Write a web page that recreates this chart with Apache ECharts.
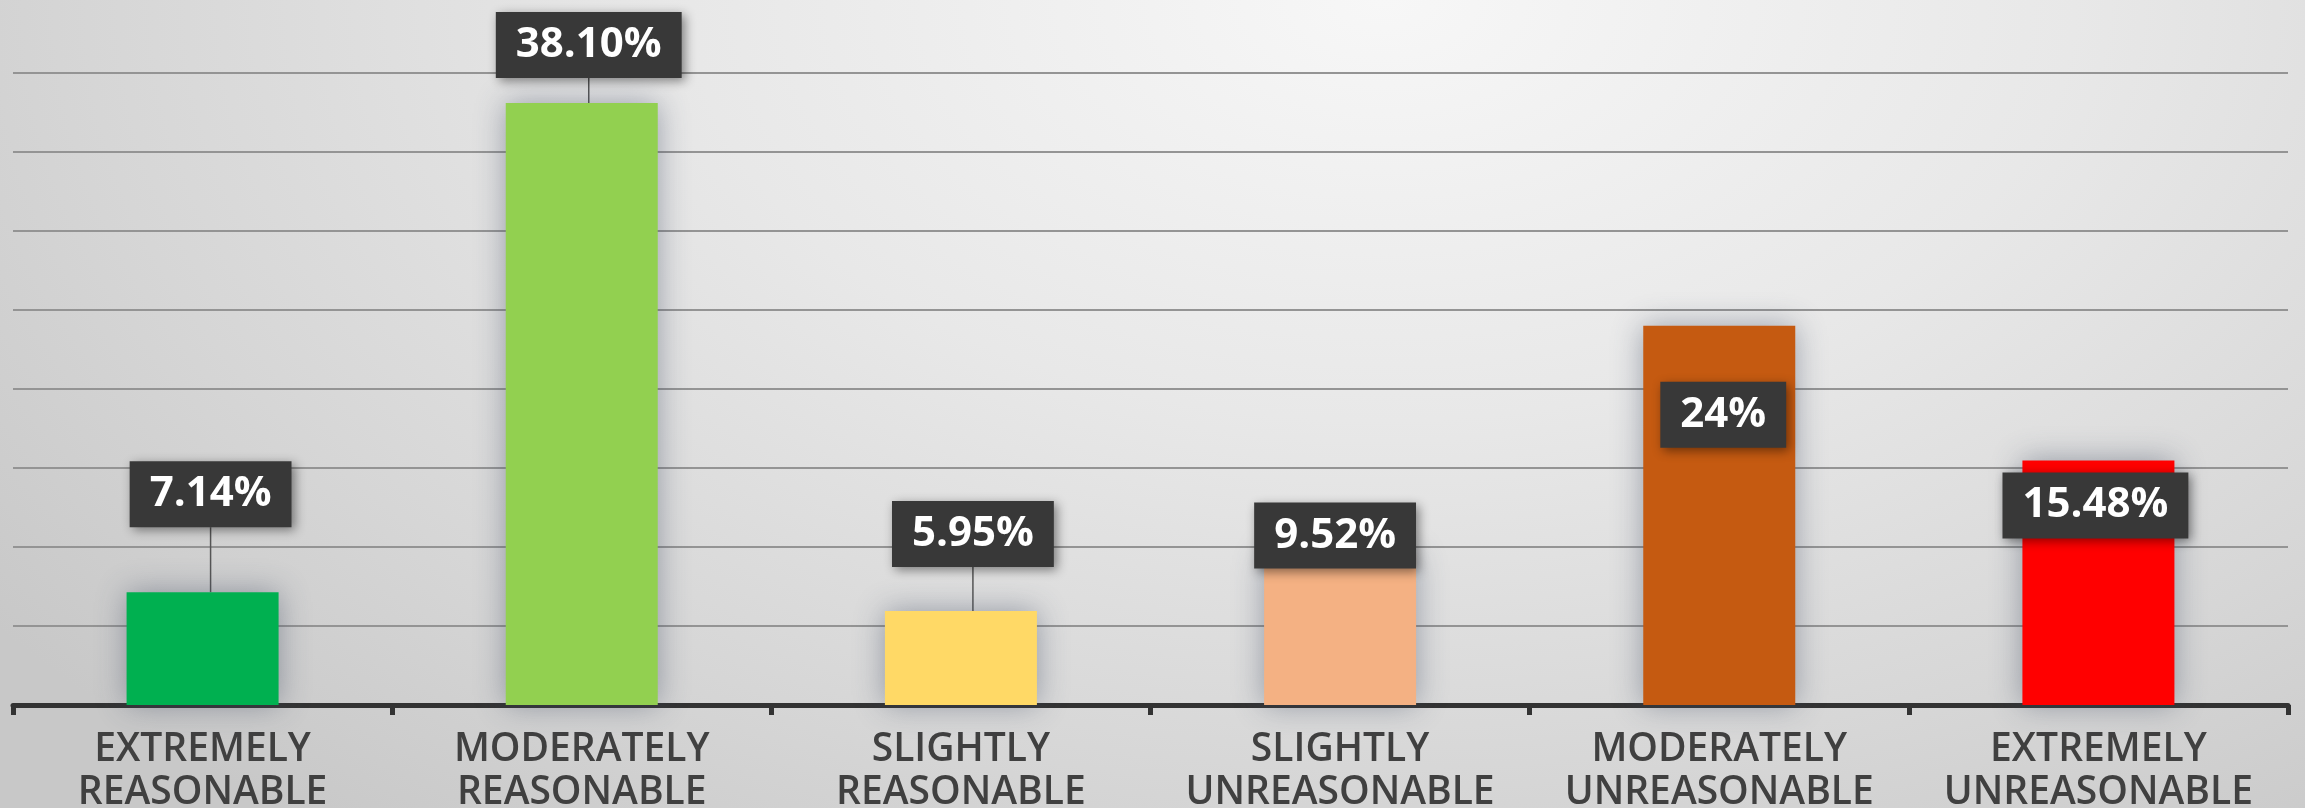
<!DOCTYPE html>
<html>
<head>
<meta charset="utf-8">
<script src="https://cdn.jsdelivr.net/npm/echarts@6/dist/echarts.min.js"></script>
<style>
  html, body { margin: 0; padding: 0; }
  body {
    width: 2305px; height: 808px; overflow: hidden;
    background: radial-gradient(ellipse 75% 130% at 60% 0%, #f7f7f7 0%, #e8e8e8 40%, #d6d6d6 75%, #c8c8c8 100%);
  }
  #chart { width: 2305px; height: 808px; }
</style>
</head>
<body>
<div id="chart"></div>
<script>
// Survey answers: how reasonable the respondents found it
const categories = [
  'EXTREMELY\nREASONABLE',
  'MODERATELY\nREASONABLE',
  'SLIGHTLY\nREASONABLE',
  'SLIGHTLY\nUNREASONABLE',
  'MODERATELY\nUNREASONABLE',
  'EXTREMELY\nUNREASONABLE'
];
const shares = [7.14, 38.10, 5.95, 9.52, 24, 15.48];
const yTicks = [0, 5, 10, 15, 20, 25, 30, 35, 40];

// one colour per answer, green (reasonable) through red (unreasonable)
const barColors = ['#00b050', '#92d050', '#ffd966', '#f4b183', '#c55a11', '#ff0000'];
// where each value box sits relative to the top of its bar
const labelShiftX = [8, 7, 12, -5, 4, -3];
const labelLift = [65, 25, 44, -14, -122, -78];
const withLeader = [true, true, true, false, false, false];

const fmt = v => (Number.isInteger(v) ? String(v) : v.toFixed(2)) + '%';

const chart = echarts.init(document.getElementById('chart'), null, { renderer: 'canvas' });

chart.setOption({
  backgroundColor: 'transparent',
  animation: false,
  grid: { left: 13, right: 17, top: 73, bottom: 103, containLabel: false, outerBoundsMode: 'none' },
  xAxis: {
    type: 'category',
    data: categories,
    boundaryGap: true,
    axisLine: { show: true, lineStyle: { color: '#333333', width: 5 } },
    axisTick: { show: true, alignWithLabel: false, length: 10, lineStyle: { color: '#333333', width: 5 } },
    axisLabel: {
      interval: 0,
      margin: 23,
      color: '#404040',
      fontFamily: 'Open Sans',
      fontWeight: 600,
      fontSize: 39,
      lineHeight: 43
    }
  },
  yAxis: {
    type: 'value',
    min: yTicks[0],
    max: yTicks[yTicks.length - 1],
    interval: yTicks[1] - yTicks[0],
    axisLine: { show: false },
    axisTick: { show: false },
    axisLabel: { show: false },
    splitLine: { show: true, lineStyle: { color: '#949494', width: 2 } }
  },
  series: [{
    type: 'bar',
    barWidth: 152,
    data: shares.map((v, i) => ({
      value: v,
      itemStyle: {
        color: barColors[i],
        shadowBlur: 28,
        shadowColor: 'rgba(60, 70, 95, 0.45)'
      },
      labelLine: { show: withLeader[i], lineStyle: { color: '#555555', width: 1.5 } }
    })),
    label: {
      show: true,
      position: 'top',
      distance: 0,
      formatter: p => fmt(p.value),
      color: '#ffffff',
      fontFamily: 'Open Sans',
      fontWeight: 700,
      fontSize: 42,
      lineHeight: 46,
      backgroundColor: '#383838',
      padding: [10, 20, 10, 20],
      shadowBlur: 10,
      shadowOffsetX: 3,
      shadowOffsetY: 3,
      shadowColor: 'rgba(0, 0, 0, 0.45)'
    },
    labelLayout: p => ({ dx: labelShiftX[p.dataIndex], dy: -labelLift[p.dataIndex] })
  }]
});
</script>
</body>
</html>
